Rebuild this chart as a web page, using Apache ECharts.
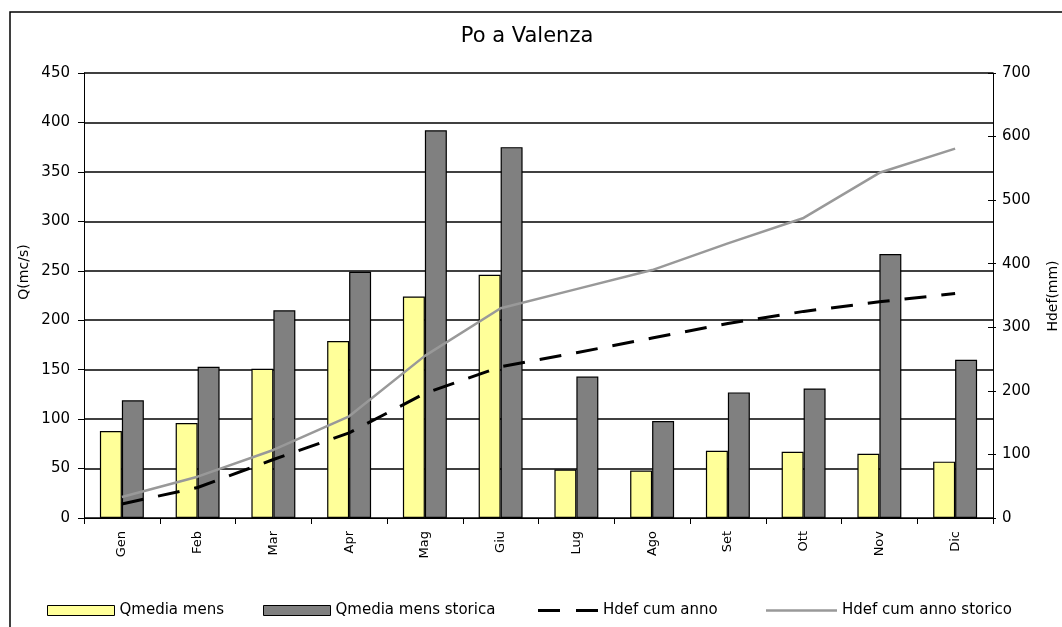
<!DOCTYPE html>
<html>
<head>
<meta charset="utf-8">
<script src="https://cdn.jsdelivr.net/npm/echarts@6/dist/echarts.min.js"></script>
<style>
html,body{margin:0;padding:0;background:#fff;}
#chart{width:1062px;height:627px;}
</style>
</head>
<body>
<div id="chart"></div>
<script>
var months = ['Gen','Feb','Mar','Apr','Mag','Giu','Lug','Ago','Set','Ott','Nov','Dic'];
var qMediaMens = [88, 96, 151, 179, 224, 246, 49, 48, 68, 67, 65, 57];
var qMediaMensStorica = [119, 153, 210, 249, 392, 375, 143, 98, 127, 131, 267, 160];
var hdefCumAnno = [22, 48, 92, 134, 196, 238, 260, 283, 306, 325, 340, 353];
var hdefCumAnnoStorico = [33, 65, 107, 160, 255, 330, 360, 390, 432, 472, 543, 581];
var seriesNames = ['Qmedia mens', 'Qmedia mens storica', 'Hdef cum anno', 'Hdef cum anno storico'];

var FONT = 'DejaVu Sans';
var chart = echarts.init(document.getElementById('chart'));

function legendFor(item, left, w, h, extra) {
  var o = {
    data: [item],
    left: left,
    top: 598,
    itemWidth: w,
    itemHeight: h,
    itemGap: 0,
    selectedMode: false,
    textStyle: {fontFamily: FONT, fontSize: 15, color: '#000'}
  };
  if (extra) { for (var k in extra) o[k] = extra[k]; }
  return o;
}

var option = {
  animation: false,
  backgroundColor: '#fff',
  title: {
    text: 'Po a Valenza',
    left: 522,
    textAlign: 'center',
    top: 21,
    textStyle: {fontFamily: FONT, fontSize: 21, fontWeight: 'normal', color: '#000'}
  },
  graphic: [
    {type: 'rect', shape: {x: 10, y: 12, width: 1100, height: 700}, style: {fill: 'none', stroke: '#000', lineWidth: 1.5}, silent: true, z: -1},
    {type: 'text', x: 24, y: 272, rotation: Math.PI / 2,
     style: {text: 'Q(mc/s)', fontFamily: FONT, fontSize: 14, fill: '#000', textAlign: 'center', textVerticalAlign: 'middle'}},
    {type: 'text', x: 1053, y: 296, rotation: Math.PI / 2,
     style: {text: 'Hdef(mm)', fontFamily: FONT, fontSize: 14, fill: '#000', textAlign: 'center', textVerticalAlign: 'middle'}}
  ],
  legend: [
    legendFor({name: seriesNames[0], icon: 'rect'}, 42, 67, 10, {itemStyle: {borderColor: '#000', borderWidth: 1}}),
    legendFor({name: seriesNames[1], icon: 'rect'}, 258, 67, 10, {itemStyle: {borderColor: '#000', borderWidth: 1}}),
    legendFor({name: seriesNames[2], icon: 'path://M0,0H22V3H0Z M38,0H60V3H38Z'}, 533, 60, 3, {itemStyle: {color: '#000', borderWidth: 0}}),
    legendFor({name: seriesNames[3], icon: 'rect'}, 761, 71, 2.5, {itemStyle: {color: '#999999', borderWidth: 0}})
  ],
  grid: {left: 84, right: 69, top: 73, bottom: 109, containLabel: false},
  xAxis: {
    type: 'category',
    data: months,
    boundaryGap: true,
    axisLine: {show: true, lineStyle: {color: '#000', width: 1}},
    axisTick: {show: true, alignWithLabel: false, length: 6, lineStyle: {color: '#000'}},
    axisLabel: {rotate: 90, margin: 13, fontFamily: FONT, fontSize: 13, color: '#000'},
    splitLine: {show: false}
  },
  yAxis: [
    {
      type: 'value', position: 'left', min: 0, max: 450, interval: 50,
      axisLine: {show: true, lineStyle: {color: '#000', width: 1}},
      axisTick: {show: true, inside: false, length: 6, lineStyle: {color: '#000'}},
      axisLabel: {margin: 14, fontFamily: FONT, fontSize: 15, color: '#000'},
      splitLine: {show: true, lineStyle: {color: '#000', width: 1.5}}
    },
    {
      type: 'value', position: 'right', min: 0, max: 700, interval: 100,
      axisLine: {show: true, lineStyle: {color: '#000', width: 1}},
      axisTick: {show: true, inside: false, length: 3, lineStyle: {color: '#000'}},
      axisLabel: {margin: 9, fontFamily: FONT, fontSize: 15, color: '#000'},
      splitLine: {show: false}
    },
    {
      type: 'value', position: 'right', min: 0, max: 700, interval: 100,
      axisLine: {show: false},
      axisTick: {show: true, inside: true, length: 5, lineStyle: {color: '#000'}},
      axisLabel: {show: false},
      splitLine: {show: false}
    }
  ],
  series: [
    {
      name: seriesNames[0], type: 'bar', yAxisIndex: 0, data: qMediaMens,
      barGap: '0%', barCategoryGap: '42%',
      itemStyle: {color: '#FFFF99', borderColor: '#000', borderWidth: 1.2}
    },
    {
      name: seriesNames[1], type: 'bar', yAxisIndex: 0, data: qMediaMensStorica,
      barGap: '0%', barCategoryGap: '42%',
      itemStyle: {color: '#808080', borderColor: '#000', borderWidth: 1.2}
    },
    {
      name: seriesNames[2], type: 'line', yAxisIndex: 1, data: hdefCumAnno,
      symbol: 'none', showSymbol: false,
      itemStyle: {color: '#000'},
      lineStyle: {color: '#000', width: 3, type: [22, 15]},
      z: 5
    },
    {
      name: seriesNames[3], type: 'line', yAxisIndex: 1, data: hdefCumAnnoStorico,
      symbol: 'none', showSymbol: false,
      itemStyle: {color: '#999999'},
      lineStyle: {color: '#999999', width: 2.5, type: 'solid'},
      z: 5
    }
  ]
};
chart.setOption(option);
</script>
</body>
</html>
